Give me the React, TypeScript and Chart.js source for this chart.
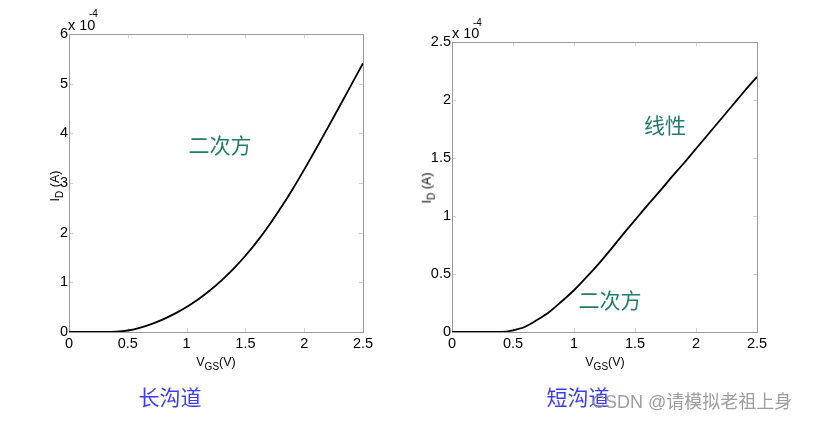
import React, { useEffect, useRef } from "react";
import { Chart, registerables } from "chart.js";
Chart.register(...registerables);

// ---- data ----
const vgs = [0, 0.1, 0.2, 0.3, 0.4, 0.5, 0.6, 0.7, 0.8, 0.9, 1.0, 1.1, 1.2, 1.3, 1.4, 1.5, 1.6, 1.7, 1.8, 1.9, 2.0, 2.1, 2.2, 2.3, 2.4, 2.5];
// long channel, units of 1e-4 A
const idLong = [0, 0, 0, 0, 0.005, 0.03, 0.085, 0.16, 0.255, 0.37, 0.505, 0.66, 0.84, 1.045, 1.275, 1.535, 1.825, 2.145, 2.495, 2.87, 3.27, 3.685, 4.11, 4.54, 4.975, 5.41];
// short channel, units of 1e-4 A
const idShort = [0, 0, 0, 0, 0.001, 0.015, 0.045, 0.105, 0.175, 0.265, 0.36, 0.47, 0.585, 0.71, 0.84, 0.965, 1.09, 1.21, 1.335, 1.455, 1.58, 1.705, 1.83, 1.955, 2.08, 2.2];
const xTicks = [0, 0.5, 1, 1.5, 2, 2.5];
const yTicksLong = [0, 1, 2, 3, 4, 5, 6];
const yTicksShort = [0, 0.5, 1, 1.5, 2, 2.5];

const W = 817;
const H = 421;
const TICK_FONT = { family: "'Liberation Sans', Arial, sans-serif", size: 14.5 };
const Y_AXIS_W = 40;
const X_AXIS_H = 30;

const framePlugin = {
  id: "matlabFrame",
  beforeDatasetsDraw(chart: any) {
    const { ctx, chartArea, scales } = chart;
    const { left, right, top, bottom } = chartArea;
    ctx.save();
    ctx.lineWidth = 1;
    ctx.strokeStyle = "#cfcfcf";
    const len = 4;
    scales.x.ticks.forEach((t: any) => {
      const px = Math.round(scales.x.getPixelForValue(t.value)) + 0.5;
      ctx.beginPath();
      ctx.moveTo(px, bottom);
      ctx.lineTo(px, bottom - len);
      ctx.moveTo(px, top);
      ctx.lineTo(px, top + len);
      ctx.stroke();
    });
    scales.y.ticks.forEach((t: any) => {
      const py = Math.round(scales.y.getPixelForValue(t.value)) + 0.5;
      ctx.beginPath();
      ctx.moveTo(left, py);
      ctx.lineTo(left + len, py);
      ctx.moveTo(right, py);
      ctx.lineTo(right - len, py);
      ctx.stroke();
    });
    ctx.strokeStyle = "#9a9a9a";
    ctx.strokeRect(Math.round(left) + 0.5, Math.round(top) + 0.5, Math.round(right - left), Math.round(bottom - top));
    ctx.restore();
  },
};

const fmt = (v: any) => String(v);

function makeConfig(values: number[], yTicks: number[], yMax: number, area: any) {
  return {
    type: "line",
    data: {
      datasets: [
        {
          data: vgs.map((v, i) => ({ x: v, y: values[i] })),
          borderColor: "#000000",
          borderWidth: 1.8,
          pointRadius: 0,
          fill: false,
          cubicInterpolationMode: "monotone",
        },
      ],
    },
    options: {
      responsive: false,
      animation: false,
      devicePixelRatio: 1,
      layout: {
        padding: {
          left: area.left - Y_AXIS_W,
          right: W - area.right,
          top: area.top,
          bottom: H - area.bottom - X_AXIS_H,
        },
      },
      plugins: { legend: { display: false }, tooltip: { enabled: false } },
      scales: {
        x: {
          type: "linear",
          min: 0,
          max: 2.5,
          afterBuildTicks: (s: any) => {
            s.ticks = xTicks.map((v) => ({ value: v }));
          },
          afterFit: (s: any) => {
            s.height = X_AXIS_H;
          },
          grid: { display: false, drawTicks: false },
          border: { display: false },
          ticks: { color: "#000", font: TICK_FONT, padding: 3, maxRotation: 0, autoSkip: false, callback: fmt },
        },
        y: {
          type: "linear",
          min: 0,
          max: yMax,
          afterBuildTicks: (s: any) => {
            s.ticks = yTicks.map((v) => ({ value: v }));
          },
          afterFit: (s: any) => {
            s.width = Y_AXIS_W;
          },
          grid: { display: false, drawTicks: false },
          border: { display: false },
          ticks: { color: "#000", font: TICK_FONT, padding: 1, autoSkip: false, callback: fmt },
        },
      },
    },
    plugins: [framePlugin],
  };
}

function ChartCanvas({ values, yTicks, yMax, area }: any) {
  const ref = useRef<HTMLCanvasElement | null>(null);
  useEffect(() => {
    if (!ref.current) return;
    const chart = new Chart(ref.current, makeConfig(values, yTicks, yMax, area) as any);
    return () => chart.destroy();
  }, []);
  return <canvas ref={ref} width={W} height={H} style={{ position: "absolute", left: 0, top: 0, width: W, height: H }} />;
}

function Txt({ x, y, children, style, anchor = "center" }: any) {
  const tx = anchor === "left" ? "0" : "-50%";
  return (
    <div
      style={{
        position: "absolute",
        left: x,
        top: y,
        transform: `translate(${tx}, -50%)`,
        whiteSpace: "nowrap",
        lineHeight: 1,
        ...style,
      }}
    >
      {children}
    </div>
  );
}

const latin = "'Liberation Sans', Arial, sans-serif";
const cjk = "'Noto Sans CJK SC', sans-serif";
const teal = "#1f7d6b";
const blue = "#3b3bff";

function XTitle({ x }: any) {
  return (
    <Txt x={x} y={362} style={{ fontFamily: latin, fontSize: 12.5, color: "#000" }}>
      V<span style={{ fontSize: 10, position: "relative", top: 4 }}>GS</span>(V)
    </Txt>
  );
}

function YTitle({ x, y }: any) {
  return (
    <div
      style={{
        position: "absolute",
        left: x,
        top: y,
        transform: "translate(-50%, -50%) rotate(-90deg)",
        whiteSpace: "nowrap",
        lineHeight: 1,
        fontFamily: latin,
        fontSize: 12.5,
        color: "#000",
      }}
    >
      I<span style={{ fontSize: 10, position: "relative", top: 4 }}>D</span> (A)
    </div>
  );
}

export default function App() {
  return (
    <div style={{ position: "absolute", left: 0, top: 0, width: W, height: H, background: "#fff", overflow: "hidden" }}>
      <ChartCanvas values={idLong} yTicks={yTicksLong} yMax={6} area={{ left: 69, right: 363, top: 34, bottom: 332 }} />
      <ChartCanvas values={idShort} yTicks={yTicksShort} yMax={2.5} area={{ left: 452, right: 757, top: 42, bottom: 332 }} />

      {/* left chart texts */}
      <Txt x={68} y={24.5} anchor="left" style={{ fontFamily: latin, fontSize: 14.5 }}>x 10</Txt>
      <Txt x={89} y={14} anchor="left" style={{ fontFamily: latin, fontSize: 10 }}>-4</Txt>
      <Txt x={220} y={144} style={{ fontFamily: cjk, fontSize: 21, color: teal }}>二次方</Txt>
      <XTitle x={216} />
      <YTitle x={55} y={186} />
      <Txt x={170} y={396} style={{ fontFamily: cjk, fontSize: 21, color: blue }}>长沟道</Txt>

      {/* right chart texts */}
      <Txt x={452} y={33} anchor="left" style={{ fontFamily: latin, fontSize: 14.5 }}>x 10</Txt>
      <Txt x={473} y={23} anchor="left" style={{ fontFamily: latin, fontSize: 10 }}>-4</Txt>
      <XTitle x={605} />
      <YTitle x={427} y={188} />
      <Txt x={665} y={124} style={{ fontFamily: cjk, fontSize: 21, color: teal }}>线性</Txt>
      <Txt x={610} y={299} style={{ fontFamily: cjk, fontSize: 21, color: teal }}>二次方</Txt>
      <Txt x={578} y={396} style={{ fontFamily: cjk, fontSize: 21, color: blue }}>短沟道</Txt>

      {/* watermark */}
      <Txt x={592} y={402} anchor="left" style={{ fontFamily: `'Liberation Sans', ${cjk}`, fontSize: 18, color: "rgba(140,140,140,0.85)" }}>
        CSDN @请模拟老祖上身
      </Txt>
    </div>
  );
}
